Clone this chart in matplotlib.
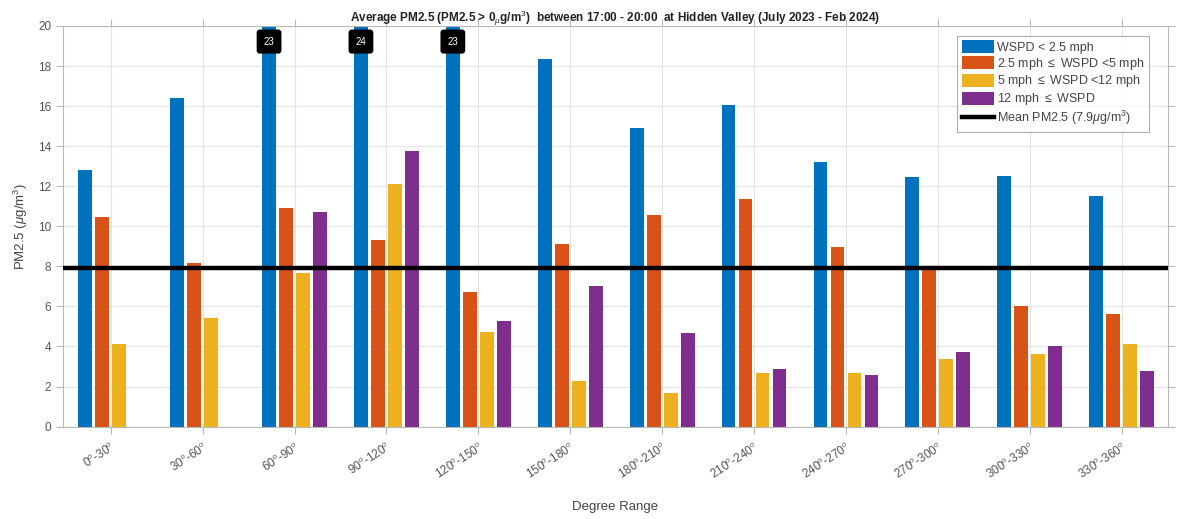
import numpy as np
import matplotlib
matplotlib.use("Agg")
import matplotlib.pyplot as plt
from matplotlib.patches import Patch
from matplotlib.lines import Line2D

# Direction bins
sectors = ["0$^o$-30$^o$", "30$^o$-60$^o$", "60$^o$-90$^o$", "90$^o$-120$^o$",
           "120$^o$-150$^o$", "150$^o$-180$^o$", "180$^o$-210$^o$", "210$^o$-240$^o$",
           "240$^o$-270$^o$", "270$^o$-300$^o$", "300$^o$-330$^o$", "330$^o$-360$^o$"]

# Average PM2.5 (ug/m3) per wind speed class
calm = [12.8, 16.4, 23, 24, 23, 18.35, 14.9, 16.05, 13.2, 12.45, 12.5, 11.5]
light = [10.45, 8.15, 10.9, 9.3, 6.7, 9.1, 10.55, 11.35, 8.95, 7.95, 6.0, 5.6]
moderate = [4.1, 5.4, 7.65, 12.1, 4.7, 2.3, 1.7, 2.7, 2.7, 3.4, 3.6, 4.1]
strong = [0, 0, 10.7, 13.75, 5.25, 7.0, 4.65, 2.9, 2.6, 3.7, 4.0, 2.8]

mean_pm = 7.9
y_max = 20

series = [calm, light, moderate, strong]
labels = ["WSPD < 2.5 mph", "2.5 mph $\\leq$ WSPD <5 mph",
          "5 mph $\\leq$ WSPD <12 mph", "12 mph $\\leq$ WSPD"]
colors = ["#0072BD", "#D95319", "#EDB120", "#7E2F8E"]

plt.rcParams["font.family"] = ["Liberation Sans", "DejaVu Sans"]
plt.rcParams["mathtext.fontset"] = "custom"
plt.rcParams["mathtext.rm"] = "Liberation Sans"
plt.rcParams["mathtext.it"] = "Liberation Sans:italic"

fig = plt.figure(figsize=(11.77, 5.19), dpi=100)
ax = fig.add_axes([0.0535, 0.178, 0.9385, 0.772])

x = np.arange(1, len(sectors) + 1)
step = 0.185
width = 0.15
for i, (vals, lab, col) in enumerate(zip(series, labels, colors)):
    pos = x + (i - 1.5) * step
    ax.bar(pos, np.minimum(vals, y_max), width=width, color=col, label=lab, zorder=2)
    if i == 0:
        for p, v in zip(pos, vals):
            if v > y_max:
                ax.text(p, 19.22, f"{v:g}", ha="center", va="center", color="white",
                        fontsize=7, zorder=5,
                        bbox=dict(boxstyle="round,pad=0.65,rounding_size=0.25",
                                  facecolor="black", edgecolor="black"))

ax.axhline(mean_pm, color="black", linewidth=3.2, zorder=4)

ax.set_xlim(0.48, 12.5)
ax.set_ylim(0, y_max)
ax.set_yticks(np.arange(0, 21, 2))
ax.set_xticks(x)
ax.set_xticklabels(sectors, rotation=33, ha="right", rotation_mode="anchor")

ax.grid(True, color="#e3e3e3", linewidth=0.8, zorder=0)
ax.set_axisbelow(True)
for s in ax.spines.values():
    s.set_color("#b8b8b8")
    s.set_linewidth(0.8)
ax.tick_params(direction="out", length=5, width=0.8, color="#b8b8b8",
               labelcolor="#555555", labelsize=8.5, top=True, right=True,
               labeltop=False, labelright=False)
ax.tick_params(axis="x", pad=5)

ax.set_ylabel("PM2.5 ($\\mu$g/m$^3$)", fontsize=9.5, color="#444444", labelpad=6)
ax.set_xlabel("Degree Range", fontsize=9.5, color="#444444", labelpad=14)
ax.set_title("Average PM2.5 (PM2.5 > 0$_{\\mu}$g/m$^3$)  between 17:00 - 20:00  at Hidden Valley (July 2023 - Feb 2024)",
             fontsize=8.5, fontweight="bold", color="#222222", pad=3)

handles = [Patch(facecolor=c, edgecolor="none") for c in colors]
handles.append(Line2D([0], [0], color="black", linewidth=3.2))
leg_labels = labels + ["Mean PM2.5 (7.9$\\mu$g/m$^3$)"]
leg = ax.legend(handles, leg_labels, loc="upper right", bbox_to_anchor=(0.9865, 0.985),
                fontsize=9, frameon=True, fancybox=False, handlelength=2.6,
                handleheight=1.2, handletextpad=0.25, labelspacing=0.15,
                borderpad=0.35, borderaxespad=0.3, labelcolor="#444444")
leg.get_frame().set_edgecolor("#999999")
leg.get_frame().set_linewidth(0.8)

fig.savefig("out.png", dpi=100)
